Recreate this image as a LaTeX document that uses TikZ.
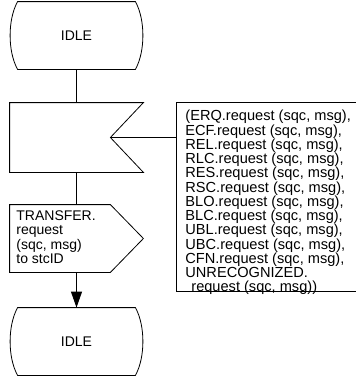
\documentclass[tikz,border=0pt]{standalone}
\usepackage{fontspec}
\setmainfont{Liberation Sans}
\usetikzlibrary{arrows.meta,calc}
\begin{document}
\begin{tikzpicture}[x=1pt, y=-1pt, line width=0.8pt,
  every node/.style={inner sep=0pt, font=\fontsize{14}{14.25}\selectfont},
  frame/.style={minimum width=133pt, minimum height=67pt},
  txt/.style={align=left, anchor=north west}]
\useasboundingbox (0,0) rectangle (356,378);
\def\cut{33}
\def\bend{8}
% states
\node[frame] (idleA) at (76.5,35.5) {IDLE};
\node[frame] (idleB) at (76.5,341.5) {IDLE};
\foreach \s in {idleA,idleB}
  \draw ($(\s.north west)+(\bend,0)$) -- ($(\s.north east)+(-\bend,0)$)
    .. controls ($(\s.north east)+(2,18)$) and ($(\s.south east)+(2,-18)$) .. ($(\s.south east)+(-\bend,0)$)
    -- ($(\s.south west)+(\bend,0)$)
    .. controls ($(\s.south west)+(-2,-18)$) and ($(\s.north west)+(-2,18)$) .. cycle;

% input signal
\node[frame, minimum height=69pt] (input) at (76.5,137.5) {};
\coordinate (notch) at ($(input.east)+(-\cut,0)$);
\draw (input.north west) -- (input.north east) -- (notch) -- (input.south east)
  -- (input.south west) -- cycle;

% output signal
\node[frame] (output) at (76.5,238.5) {};
\draw (output.north west) -- ($(output.north east)+(-\cut,0)$) -- (output.east)
  -- ($(output.south east)+(-\cut,0)$) -- (output.south west) -- cycle;
\node[txt] (outtext) at (16,210.5) {TRANSFER.\\request\\(sqc, msg)\\to stcID};

% comment
\node[minimum width=179.5pt, minimum height=189pt, anchor=north west] (comment) at (176.5,102) {};
\draw (comment.north east) -- (comment.north west) -- (comment.south west) -- (comment.south east);
\node[txt, font=\fontsize{14.6}{14.25}\selectfont] (commtext) at (185,110) {(ERQ.request (sqc, msg),\\ECF.request (sqc, msg),\\
  REL.request (sqc, msg),\\RLC.request (sqc, msg),\\RES.request (sqc, msg),\\
  RSC.request (sqc, msg),\\BLO.request (sqc, msg),\\BLC.request (sqc, msg),\\
  UBL.request (sqc, msg),\\UBC.request (sqc, msg),\\CFN.request (sqc, msg),\\
  UNRECOGNIZED.\\\hspace*{6pt}request (sqc, msg))};

% connectors
\draw (notch) -- (notch -| comment.west);
\draw (idleA.south) -- (input.north);
\draw (input.south) -- (output.north);
\draw[-{Triangle[length=16pt, width=11pt]}] (output.south) -- (idleB.north);
\end{tikzpicture}
\end{document}
